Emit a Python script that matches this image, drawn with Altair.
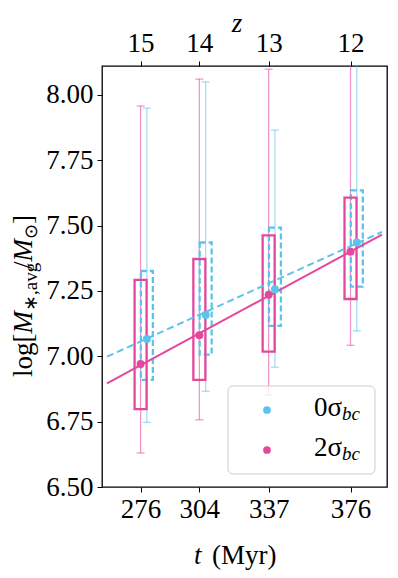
import altair as alt
import pandas as pd

# ---------------- data ----------------
T_MYR = [276, 304, 337, 376]
Z_LABELS = ["15", "14", "13", "12"]
SERIES = ["0σ", "2σ"]

# 0 sigma_bc (blue)
MED_0 = [7.066, 7.158, 7.256, 7.435]
QLO_0 = [6.910, 7.006, 7.116, 7.266]
QHI_0 = [7.326, 7.435, 7.492, 7.634]
WLO_0 = [6.747, 6.866, 6.958, 7.097]
WHI_0 = [7.949, 8.049, 7.865, 8.200]

# 2 sigma_bc (pink)
MED_2 = [6.970, 7.080, 7.235, 7.400]
QLO_2 = [6.798, 6.910, 7.018, 7.219]
QHI_2 = [7.292, 7.372, 7.462, 7.607]
WLO_2 = [6.630, 6.757, 6.851, 7.042]
WHI_2 = [7.957, 8.060, 8.098, 8.250]

SHIFT = {"0σ": 3, "2σ": 0}          # horizontal dodge of the blue series (Myr)
X_DOMAIN = [260, 391]
Y_DOMAIN = [6.5, 8.11]
Y_TICKS = [6.5, 6.75, 7.0, 7.25, 7.5, 7.75, 8.0]

LEGEND_NUM = ["0", "2"]
LEGEND_SUB = "bc"

BLUE = "#5bc4ea"
PINK = "#e4489c"
FONT = "Liberation Serif"
TICK_FS = 27

rows = []
for name, med, qlo, qhi, wlo, whi in [
    ("0σ", MED_0, QLO_0, QHI_0, WLO_0, WHI_0),
    ("2σ", MED_2, QLO_2, QHI_2, WLO_2, WHI_2),
]:
    for i, t in enumerate(T_MYR):
        rows.append(dict(series=name, t=t, tp=t + SHIFT[name], med=med[i],
                         qlo=qlo[i], qhi=qhi[i], wlo=wlo[i], whi=whi[i]))
df = pd.DataFrame(rows)

xs = alt.Scale(domain=X_DOMAIN, nice=False, zero=False)
ys = alt.Scale(domain=Y_DOMAIN, nice=False, zero=False)
cs = alt.Scale(domain=SERIES, range=[BLUE, PINK])

Y_AXIS = alt.Axis(values=Y_TICKS, format=".2f", title=None, grid=False,
                  labelFont=FONT, labelFontSize=TICK_FS, labelColor="black",
                  tickColor="black", tickSize=5, labelPadding=4, domain=False)
X_AXIS_BOTTOM = alt.Axis(values=T_MYR, title=None, grid=False, orient="bottom",
                         labelFont=FONT, labelFontSize=TICK_FS, labelColor="black",
                         tickColor="black", tickSize=5, labelPadding=4, domain=False)
expr = "''"
for t, z in reversed(list(zip(T_MYR, Z_LABELS))):
    expr = f"datum.value == {t} ? '{z}' : ({expr})"
X_AXIS_TOP = alt.Axis(values=T_MYR, title=None, grid=False, orient="top",
                      labelExpr=expr,
                      labelFont=FONT, labelFontSize=TICK_FS, labelColor="black",
                      tickColor="black", tickSize=5, labelPadding=4, domain=False)

base = alt.Chart(df)
y_enc = lambda f: alt.Y(f"{f}:Q", scale=ys, axis=Y_AXIS)
x_none = alt.X("tp:Q", scale=xs, axis=None)
col = alt.Color("series:N", scale=cs, legend=None)

whisk = base.mark_rule(clip=True, strokeWidth=1.2, opacity=0.6).encode(
    x=alt.X("tp:Q", scale=xs, axis=X_AXIS_BOTTOM), y=y_enc("wlo"), y2="whi:Q", color=col)
cap_lo = base.mark_tick(orient="horizontal", size=8, thickness=1.2, opacity=0.6, clip=True).encode(
    x=x_none, y=y_enc("wlo"), color=col)
cap_hi = base.mark_tick(orient="horizontal", size=8, thickness=1.2, opacity=0.6, clip=True).encode(
    x=x_none, y=y_enc("whi"), color=col)

box_pink = base.transform_filter("datum.series == '2σ'").mark_bar(
    fill="transparent", stroke=PINK, strokeWidth=2.3, size=12, clip=True).encode(
    x=x_none, y=y_enc("qlo"), y2="qhi:Q")
box_blue = base.transform_filter("datum.series == '0σ'").mark_bar(
    fill="transparent", stroke=BLUE, strokeWidth=2.3, strokeDash=[6, 3], size=12, clip=True).encode(
    x=x_none, y=y_enc("qlo"), y2="qhi:Q")

fit_blue = base.transform_filter("datum.series == '0σ'").transform_regression(
    "t", "med", extent=X_DOMAIN).mark_line(color=BLUE, strokeWidth=2, strokeDash=[7, 4], clip=True).encode(
    x=alt.X("t:Q", scale=xs, axis=None), y=y_enc("med"))
fit_pink = base.transform_filter("datum.series == '2σ'").transform_regression(
    "t", "med", extent=X_DOMAIN).mark_line(color=PINK, strokeWidth=2, clip=True).encode(
    x=alt.X("t:Q", scale=xs, axis=None), y=y_enc("med"))

dots = base.mark_circle(size=64, opacity=1, clip=True).encode(
    x=alt.X("tp:Q", scale=xs, axis=X_AXIS_TOP), y=y_enc("med"), color=col)

one = alt.Chart(pd.DataFrame({"k": [0]}))

# custom legend
leg_box = one.mark_rect(fill="white", fillOpacity=0.8, stroke="#cccccc", strokeWidth=1,
                        cornerRadius=5).encode(
    x=alt.value(126), x2=alt.value(273), y=alt.value(320), y2=alt.value(408))
leg_layers = [leg_box]
for i, (num, c) in enumerate(zip(LEGEND_NUM, [BLUE, PINK])):
    yb = 350 + 40 * i
    leg_layers.append(one.mark_circle(size=60, color=c, opacity=1).encode(
        x=alt.value(165), y=alt.value(yb - 6)))
    leg_layers.append(one.mark_text(text=num + "σ", font=FONT, fontSize=27, align="left",
                                    baseline="alphabetic", color="black").encode(
        x=alt.value(212), y=alt.value(yb)))
    leg_layers.append(one.mark_text(text=LEGEND_SUB, font=FONT, fontSize=19, fontStyle="italic",
                                    align="left", baseline="alphabetic", color="black").encode(
        x=alt.value(240), y=alt.value(yb + 4)))

# axis titles as text pieces
titles = [
    one.mark_text(text="t", font=FONT, fontSize=27, fontStyle="italic", align="left",
                  baseline="alphabetic", color="black").encode(x=alt.value(92), y=alt.value(498)),
    one.mark_text(text="(Myr)", font=FONT, fontSize=27, align="left",
                  baseline="alphabetic", color="black").encode(x=alt.value(110), y=alt.value(498)),
    one.mark_text(text="z", font=FONT, fontSize=27, fontStyle="italic", align="center",
                  baseline="alphabetic", color="black").encode(x=alt.value(135), y=alt.value(-34)),
]
# rotated y title: log[M_{*,avg}/M_sun]
ypieces = [
    ("log[", 27, "normal", 0, 43.5),
    ("M", 27, "italic", 0, 22.5),
    ("∗,avg", 19, "normal", 5, 42),
    ("/", 27, "normal", 0, 7.5),
    ("M", 27, "italic", 0, 22.5),
    ("⊙", 18, "normal", 5, 15),
    ("]", 27, "normal", 0, 9),
]
ycur = 311
for txt, fs, st, dx, w in ypieces:
    titles.append(one.mark_text(text=txt, font=FONT, fontSize=fs, fontStyle=st, angle=270,
                                align="left", baseline="alphabetic", color="black").encode(
        x=alt.value(-70 + dx), y=alt.value(ycur)))
    ycur -= w

chart = alt.layer(
    whisk, cap_lo, cap_hi, box_blue, box_pink, fit_blue, fit_pink, dots,
    *leg_layers, *titles
).resolve_axis(x="independent").properties(
    width=285, height=421,
    autosize=alt.AutoSizeParams(type="none"),
    padding={"left": 94, "top": 58, "right": 3, "bottom": 83},
).configure_view(stroke="black", strokeWidth=1.3)

chart.save("out.html", embed_options={"renderer": "svg", "actions": False})
